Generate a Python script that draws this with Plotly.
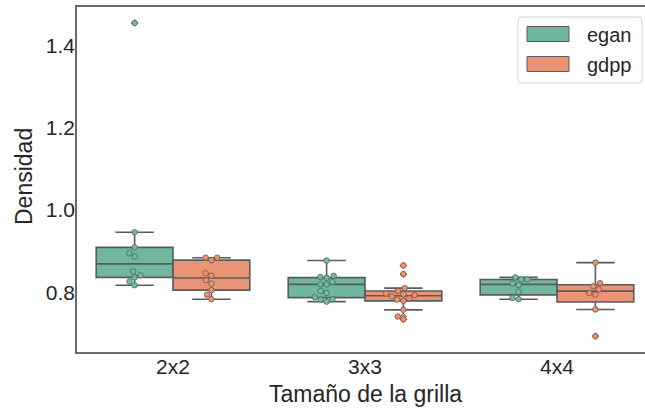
import math
import plotly.graph_objects as go

# ---------------- data ----------------
categories = ["2x2", "3x3", "4x4"]
series_names = ["egan", "gdpp"]

egan_2x2 = [0.817, 0.826, 0.836, 0.841, 0.851, 0.887, 0.895, 0.909, 0.946, 1.455]
egan_3x3 = [0.777, 0.782, 0.783, 0.788, 0.798, 0.803, 0.819, 0.819, 0.825, 0.835, 0.837, 0.840, 0.877]
egan_4x4 = [0.783, 0.786, 0.801, 0.817, 0.821, 0.831, 0.831, 0.836]

gdpp_2x2 = [0.783, 0.794, 0.805, 0.821, 0.829, 0.840, 0.846, 0.878, 0.884, 0.884]
gdpp_3x3 = [0.734, 0.741, 0.757, 0.779, 0.782, 0.785, 0.790, 0.793, 0.795, 0.797, 0.803, 0.810, 0.844, 0.865]
gdpp_4x4 = [0.693, 0.758, 0.794, 0.798, 0.807, 0.8145, 0.822, 0.872]

y_tick_vals = [0.8, 1.0, 1.2, 1.4]
x_title = "Tamaño de la grilla"
y_title = "Densidad"

data = {
    "egan": [egan_2x2, egan_3x3, egan_4x4],
    "gdpp": [gdpp_2x2, gdpp_3x3, gdpp_4x4],
}

# ---------------- style ----------------
W, H = 645, 410
ML, MR, MT, MB = 77, 0, 7, 58
PW, PH = W - ML - MR, H - MT - MB
XR = [-0.5, -0.5 + PW / 192.0]
YR = [0.6545, 0.6545 + PH / 411.0]

box_fill = {"egan": "#71b6a1", "gdpp": "#e99575"}
pt_fill = {"egan": "#66c2a5", "gdpp": "#fc8d62"}
gray = "#5a5a5a"
spine = "#6a6a6a"
txt = "#262626"
FONT = "Liberation Sans, Arial, sans-serif"
offsets = {"egan": -0.2, "gdpp": 0.2}

xscale = PW / (XR[1] - XR[0])
yscale = PH / (YR[1] - YR[0])


def swarm(vals, d=6.3):
    order = sorted(range(len(vals)), key=lambda i: vals[i])
    placed = []
    xs = [0.0] * len(vals)
    for i in order:
        y = vals[i] * yscale
        cands = [0.0]
        for (xp, yp) in placed:
            dy = abs(y - yp)
            if dy < d:
                dx = math.sqrt(d * d - dy * dy)
                cands += [xp + dx, xp - dx]
        cands.sort(key=lambda c: (abs(c), c))
        for c in cands:
            if all((c - xp) ** 2 + (y - yp) ** 2 >= d * d - 1e-6 for (xp, yp) in placed):
                placed.append((c, y))
                xs[i] = c / xscale
                break
    return xs


fig = go.Figure()

for name in series_names:
    bx, by = [], []
    for ci, vals in enumerate(data[name]):
        bx += [ci + offsets[name]] * len(vals)
        by += vals
    fig.add_trace(go.Box(
        x=bx, y=by, name=name, width=0.4,
        fillcolor=box_fill[name],
        line=dict(color=gray, width=1.6),
        whiskerwidth=0.5,
        boxpoints="outliers", jitter=0, pointpos=0,
        quartilemethod="linear",
        marker=dict(symbol="diamond", size=5, color=box_fill[name],
                    line=dict(color=gray, width=1)),
        showlegend=False, hoverinfo="skip",
    ))

for name in series_names:
    sx, sy = [], []
    for ci, vals in enumerate(data[name]):
        dx = swarm(vals)
        sx += [ci + offsets[name] + d for d in dx]
        sy += vals
    fig.add_trace(go.Scatter(
        x=sx, y=sy, mode="markers",
        marker=dict(size=5.5, color=pt_fill[name], line=dict(color=gray, width=0.8)),
        showlegend=False, hoverinfo="skip",
    ))


def px(xp):
    return (xp - ML) / PW


def py(yp):
    return (MT + PH - yp) / PH


# legend drawn as shapes + text
lx0, lx1, ly0, ly1, r = 518, 642, 17, 83, 4
path = (f"M{px(lx0 + r)},{py(ly0)} L{px(lx1 - r)},{py(ly0)} Q{px(lx1)},{py(ly0)} {px(lx1)},{py(ly0 + r)} "
        f"L{px(lx1)},{py(ly1 - r)} Q{px(lx1)},{py(ly1)} {px(lx1 - r)},{py(ly1)} "
        f"L{px(lx0 + r)},{py(ly1)} Q{px(lx0)},{py(ly1)} {px(lx0)},{py(ly1 - r)} "
        f"L{px(lx0)},{py(ly0 + r)} Q{px(lx0)},{py(ly0)} {px(lx0 + r)},{py(ly0)} Z")
shapes = [dict(type="path", xref="paper", yref="paper", path=path,
               fillcolor="rgba(255,255,255,0.85)", line=dict(color="#d4d4d4", width=1))]
annotations = []
for k, name in enumerate(series_names):
    cy = 34 + 30 * k
    shapes.append(dict(type="rect", xref="paper", yref="paper",
                       x0=px(527), x1=px(569), y0=py(cy - 7.5), y1=py(cy + 7.5),
                       fillcolor=box_fill[name], line=dict(color=gray, width=1)))
    annotations.append(dict(xref="paper", yref="paper", x=px(585), y=py(cy + 1),
                            text=name, showarrow=False, xanchor="left", yanchor="middle",
                            font=dict(size=20, color=txt, family=FONT)))

annotations.append(dict(xref="x", yref="paper", x=1, y=py(394), text=x_title,
                        showarrow=False, xanchor="center", yanchor="middle",
                        font=dict(size=23, color=txt, family=FONT)))
annotations.append(dict(xref="paper", yref="paper", x=px(24), y=py(177), text=y_title,
                        textangle=-90, showarrow=False, xanchor="center", yanchor="middle",
                        font=dict(size=23, color=txt, family=FONT)))

fig.update_layout(
    width=W, height=H,
    margin=dict(l=ML, r=MR, t=MT, b=MB, pad=0),
    plot_bgcolor="white", paper_bgcolor="white",
    boxmode="overlay",
    font=dict(family=FONT, color=txt),
    shapes=shapes, annotations=annotations,
    xaxis=dict(range=XR, tickmode="array", tickvals=list(range(len(categories))),
               ticktext=categories, showgrid=False, zeroline=False,
               showline=True, linecolor=spine, linewidth=1.6, mirror=True,
               ticks="", ticklabelstandoff=-5,
               tickfont=dict(size=21, color=txt, family=FONT)),
    yaxis=dict(range=YR, tickmode="array", tickvals=y_tick_vals,
               ticktext=[f"{v:.1f}" for v in y_tick_vals], showgrid=False, zeroline=False,
               showline=True, linecolor=spine, linewidth=1.6, mirror=False,
               ticks="", ticklabelstandoff=-4,
               tickfont=dict(size=21, color=txt, family=FONT)),
)

fig.write_html("out.html")
